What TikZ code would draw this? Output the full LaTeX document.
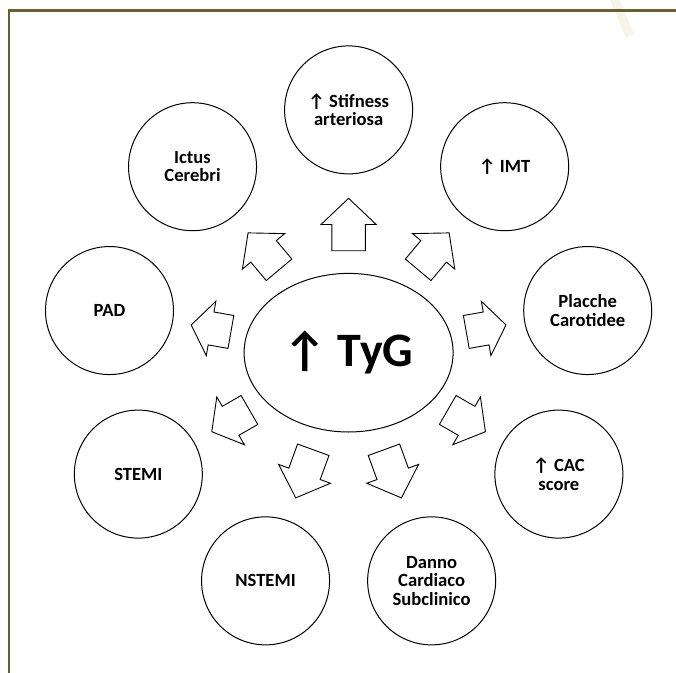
\documentclass[tikz,border=0pt]{standalone}
\usepackage{fontspec}
\setmainfont{Carlito}
\usetikzlibrary{shapes.geometric}
\definecolor{frameolive}{RGB}{103,97,50}
\definecolor{paleback}{RGB}{248,245,232}
\newcommand{\up}{↑}
% block arrow pointing away from the centre: angle, back end, tip
\newcommand{\outarrow}[3]{\draw[barrow, shift={(tyg.center)}, rotate=#1] (#2,-16.7) -- ({(#2+#3)/2},-16.7) -- ({(#2+#3)/2},-27.6) -- (#3,0) -- ({(#2+#3)/2},27.6) -- ({(#2+#3)/2},16.7) -- (#2,16.7) -- cycle;}

\begin{document}
\begin{tikzpicture}[x=1pt, y=1pt,
  effect/.style={circle, draw, line width=1pt, minimum size=128pt, inner sep=0pt, align=center, font=\bfseries\fontsize{18.6}{18.5}\selectfont},
  barrow/.style={draw, line width=0.9pt, line join=miter, fill=white}]
  \useasboundingbox (-348.6,-319.3) rectangle (327.4,352.7);
  \draw[paleback, line width=9pt] (265.4,354.7) -- (281.4,316.7);
  \draw[frameolive, line width=2.5pt] (-339.6,-322) -- (-339.6,342.2) -- (330,342.2);
  \node[ellipse, draw, line width=1pt, minimum width=209pt, minimum height=158.6pt, inner sep=0pt, font=\bfseries\fontsize{48}{50}\selectfont] (tyg) at (0,0) {\up\ TyG};
  % effects around TyG
  \node[effect] (stiff) at (90:242.8) {\up\ Stifness\\arteriosa};
  \node[effect] (imt) at (50:242.8) {\up\ IMT};
  \node[effect] (placche) at (10:242.8) {Placche\\Carotidee};
  \node[effect] (cac) at (-30:242.8) {\up\ CAC\\score};
  \node[effect] (danno) at (-70:242.8) {Danno\\Cardiaco\\Subclinico};
  \node[effect] (nstemi) at (-110:242.8) {NSTEMI};
  \node[effect] (stemi) at (-150:242.8) {STEMI};
  \node[effect] (pad) at (170:242.8) {PAD};
  \node[effect] (ictus) at (130:242.8) {Ictus\\Cerebri};
  \outarrow{90}{102}{154.4}
  \outarrow{50}{108.2}{156.4}
  \outarrow{10}{119.5}{159.8}
  \outarrow{-30}{114.5}{158}
  \outarrow{-70}{103.3}{154.5}
  \outarrow{-110}{103.3}{154.5}
  \outarrow{-150}{114.5}{158}
  \outarrow{170}{119.5}{159.8}
  \outarrow{130}{108.2}{156.4}
\end{tikzpicture}
\end{document}
